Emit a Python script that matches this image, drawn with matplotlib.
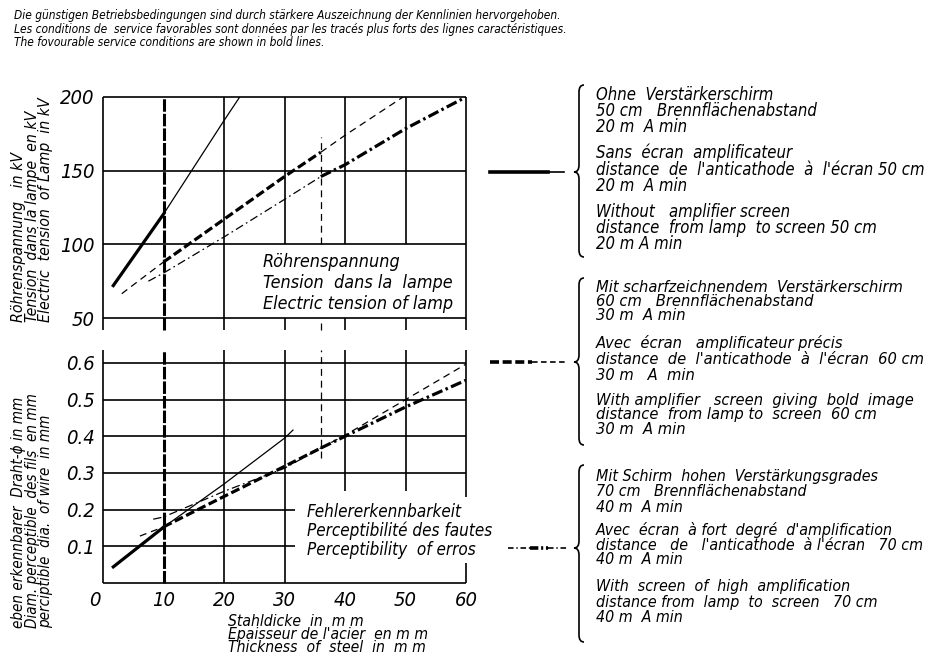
import matplotlib
matplotlib.use('Agg')
import matplotlib.pyplot as plt
from matplotlib import font_manager as fm
from matplotlib.path import Path
from matplotlib.patches import PathPatch
from matplotlib.transforms import ScaledTranslation

# pick a narrow italic face if one is there
names = {f.name for f in fm.fontManager.ttflist}
condensed = [f for f in fm.fontManager.ttflist if f.name == 'DejaVu Sans' and 'ondensed' in f.fname]
if 'Liberation Sans Narrow' in names:
    FAMILY, STRETCH = 'Liberation Sans Narrow', 'normal'
elif condensed:
    FAMILY, STRETCH = 'DejaVu Sans', 'condensed'
else:
    FAMILY, STRETCH = 'Liberation Sans', 'normal'

plt.rcParams['font.family'] = [FAMILY, 'DejaVu Sans']
plt.rcParams['font.style'] = 'italic'
plt.rcParams['font.stretch'] = STRETCH
plt.rcParams['lines.scale_dashes'] = False

# ---- data ----
# upper panel: tube voltage (kV) vs steel thickness (mm)
kv_x_none = [1.7, 10, 20, 22.6]
kv_none = [72, 120.5, 184, 200]
kv_x_sharp = [3.1, 10, 20, 30, 36, 40, 49.6]
kv_sharp = [66.5, 88, 117, 146, 162.5, 174, 200]
kv_x_high = [7.5, 10, 20, 30, 36, 40, 50, 60]
kv_high = [75, 80.5, 105, 130.5, 146, 154, 178.5, 200]

# lower panel: perceptible wire diameter (mm) vs steel thickness (mm)
d_x_none = [1.7, 10, 20, 30, 31.4]
d_none = [0.044, 0.152, 0.27, 0.395, 0.417]
d_x_sharp = [6.1, 10, 20, 30, 36, 40, 50, 60]
d_sharp = [0.128, 0.153, 0.236, 0.318, 0.368, 0.403, 0.50, 0.597]
d_x_high = [8.3, 10, 20, 30, 36, 40, 50, 60]
d_high = [0.174, 0.18, 0.25, 0.313, 0.368, 0.40, 0.48, 0.553]

# index ranges of the bold (favourable) parts
bold_none = (0, 1)
bold_sharp = (1, 4)
bold_high = (4, 7)

kv_ticks = [50, 100, 150, 200]
d_ticks = [0.1, 0.2, 0.3, 0.4, 0.5, 0.6]
d_tick_labels = ['0.1', '0.2', '0.3', '0.4', '0.5', '0.6']
x_ticks = [0, 10, 20, 30, 40, 50, 60]

note = ["Die günstigen Betriebsbedingungen sind durch stärkere Auszeichnung der Kennlinien hervorgehoben.",
        "Les conditions de  service favorables sont données par les tracés plus forts des lignes caractéristiques.",
        "The fovourable service conditions are shown in bold lines."]
ylab_kv = ["Röhrenspannung   in kV", "Tension  dans la lampe  en kV", "Electric  tension  of Lamp  in kV"]
ylab_d = ["eben erkennbarer  Draht-ϕ in mm", "Diam. perceptible  des fils  en mm", "perciptible  dia.  of wire  in mm"]
xlab = ["Stahldicke  in  m m", "Epaisseur de l'acier  en m m", "Thickness  of  steel  in  m m"]
kv_title = ["Röhrenspannung", "Tension  dans la  lampe", "Electric tension of lamp"]
d_title = ["Fehlererkennbarkeit", "Perceptibilité des fautes", "Perceptibility  of erros"]
legend_blocks = [
    ["Ohne  Verstärkerschirm", "50 cm   Brennflächenabstand", "20 m  A min",
     "Sans  écran  amplificateur", "distance  de  l'anticathode  à  l'écran 50 cm", "20 m  A min",
     "Without   amplifier screen", "distance  from lamp  to screen 50 cm", "20 m A min"],
    ["Mit scharfzeichnendem  Verstärkerschirm", "60 cm   Brennflächenabstand", "30 m  A min",
     "Avec  écran   amplificateur précis", "distance  de  l'anticathode  à  l'écran  60 cm", "30 m   A  min",
     "With amplifier   screen  giving  bold  image", "distance  from lamp to  screen  60 cm", "30 m  A min"],
    ["Mit Schirm  hohen  Verstärkungsgrades", "70 cm   Brennflächenabstand", "40 m  A min",
     "Avec  écran  à fort  degré  d'amplification", "distance   de   l'anticathode  à l'écran   70 cm", "40 m  A min",
     "With  screen  of  high  amplification", "distance from  lamp  to  screen   70 cm", "40 m  A min"],
]

fig = plt.figure(figsize=(9.47, 6.64), dpi=100)
ov = fig.add_axes([0, 0, 1, 1])
ov.set_xlim(0, 947)
ov.set_ylim(664, 0)
ov.axis('off')

W, H = 947.0, 664.0
ax1 = fig.add_axes([103 / W, 1 - 318 / H, 363 / W, 221 / H])
ax2 = fig.add_axes([103 / W, 1 - 583 / H, 363 / W, 220 / H])
for ax in (ax1, ax2):
    ax.set_facecolor('none')
    for s in ax.spines.values():
        s.set_visible(False)
    ax.set_xlim(0, 60)
    ax.tick_params(length=0, labelsize=14.5)

GRID = dict(color='k', lw=1.2, clip_on=False)
THIN = 0.9
BOLD = 2.3
DASH_THIN = (0, (5, 3.5))
DASH_BOLD = (0, (6.5, 2.6))
DD_THIN = (0, (6, 2.5, 1.2, 2.5))
DD_BOLD = (0, (8, 2.5, 1.8, 2.5))

# upper panel frame and grid
ax1.set_ylim(50, 200)
ax1.set_xticks([])
ax1.set_yticks(kv_ticks)
ax1.tick_params(axis='y', pad=6)
ax1.hlines(kv_ticks, 0, 60, **GRID)
ax1.vlines([0, 20, 60], 42, 200, **GRID)
ax1.vlines([30, 40, 50], 100, 200, **GRID)
ax1.vlines([30, 40, 50], 42, 50, **GRID)
ax1.vlines(10, 42, 200, color='k', lw=2.2, linestyles=(0, (9, 1.5)), clip_on=False)
ax1.vlines(36, 100, 173, color='k', lw=THIN, linestyles=DASH_THIN, clip_on=False)
ax1.vlines(36, 42, 50, color='k', lw=THIN, linestyles=DASH_THIN, clip_on=False)

# lower panel frame and grid
ax2.set_ylim(0, 0.6)
ax2.set_yticks(d_ticks)
ax2.set_yticklabels(d_tick_labels)
ax2.set_xticks(x_ticks)
ax2.tick_params(axis='y', pad=6)
ax2.tick_params(axis='x', pad=6)
zero = ax2.get_xticklabels()[0]
zero.set_transform(zero.get_transform() + ScaledTranslation(-0.08, 0, fig.dpi_scale_trans))
ax2.hlines([0, 0.3, 0.4, 0.5, 0.6], 0, 60, **GRID)
ax2.hlines([0.1, 0.2], 0, 31.7, **GRID)
ax2.vlines([0, 20, 30], 0, 0.635, **GRID)
ax2.vlines([40, 50], 0.25, 0.635, **GRID)
ax2.vlines(60, 0.235, 0.635, **GRID)
ax2.vlines(60, 0, 0.055, **GRID)
ax2.vlines(10, 0, 0.635, color='k', lw=2.2, linestyles=(0, (9, 1.5)), clip_on=False)
ax2.vlines(36, 0.34, 0.635, color='k', lw=THIN, linestyles=DASH_THIN, clip_on=False)


def split_plot(ax, x, y, bold, thin_ls, bold_ls):
    a, b = bold
    if a > 0:
        ax.plot(x[:a + 1], y[:a + 1], color='k', lw=THIN, ls=thin_ls)
    ax.plot(x[a:b + 1], y[a:b + 1], color='k', lw=BOLD, ls=bold_ls)
    if b < len(x) - 1:
        ax.plot(x[b:], y[b:], color='k', lw=THIN, ls=thin_ls)


split_plot(ax1, kv_x_none, kv_none, bold_none, '-', '-')
split_plot(ax1, kv_x_sharp, kv_sharp, bold_sharp, DASH_THIN, DASH_BOLD)
split_plot(ax1, kv_x_high, kv_high, bold_high, DD_THIN, DD_BOLD)
split_plot(ax2, d_x_none, d_none, bold_none, '-', '-')
split_plot(ax2, d_x_sharp, d_sharp, bold_sharp, DASH_THIN, DASH_BOLD)
split_plot(ax2, d_x_high, d_high, bold_high, DD_THIN, DD_BOLD)

renderer = fig.canvas.get_renderer()


def fit(texts, width, key=0, vertical=False):
    bb = texts[key].get_window_extent(renderer=renderer)
    size = bb.height if vertical else bb.width
    fs = texts[key].get_fontsize() * width / size
    for t in texts:
        t.set_fontsize(fs)


def block(lines, x, ys, key, width, **kw):
    ts = [ov.text(x, y, s, ha='left', va='center', **kw) for s, y in zip(lines, ys)]
    fit(ts, width, key)
    return ts


# header note
block(note, 14, [15, 29, 43], 0, 545, fontsize=10)

# texts inside the panels
block(kv_title, 263, [262, 283, 304], 2, 189, fontsize=12)
block(d_title, 307, [512, 531, 550], 1, 185, fontsize=12)

# x label
block(xlab, 228, [622, 635, 648], 1, 200, fontsize=11)

# y labels (rotated)
ts = [ov.text(x, 322, s, rotation=90, ha='center', va='bottom', fontsize=11)
      for s, x in zip(ylab_kv, [19, 32.5, 46])]
fit(ts, 225, 2, vertical=True)
ts = [ov.text(x, 628, s, rotation=90, ha='center', va='bottom', fontsize=11)
      for s, x in zip(ylab_d, [19, 32.5, 46])]
fit(ts, 235, 1, vertical=True)

# legend blocks with braces and line keys
block_ys = [[95, 111, 127, 153, 170, 186, 212, 228, 244],
            [287, 302, 316, 343, 360, 376, 400, 415, 430],
            [476, 491, 507, 530, 545, 560, 587, 602, 617]]
for lines, ys in zip(legend_blocks, block_ys):
    block(lines, 596, ys, 4, 328, fontsize=10)


def brace(x, y0, y1, ytip, w=5, r=7):
    verts = [(x + w, y0), (x, y0), (x, y0 + r), (x, ytip - r), (x, ytip), (x - w, ytip),
             (x, ytip), (x, ytip + r), (x, y1 - r), (x, y1), (x + w, y1)]
    codes = [Path.MOVETO, Path.CURVE3, Path.CURVE3, Path.LINETO, Path.CURVE3, Path.CURVE3,
             Path.CURVE3, Path.CURVE3, Path.LINETO, Path.CURVE3, Path.CURVE3]
    ov.add_patch(PathPatch(Path(verts, codes), fill=False, lw=1.2, color='k'))


brace(579, 85, 257, 172)
brace(579, 278, 445, 362)
brace(579, 465, 642, 548)

ov.plot([490, 548], [172, 172], color='k', lw=2.6)
ov.plot([548, 564], [172, 172], color='k', lw=1.2)
ov.plot([490, 532], [362, 362], color='k', lw=2.6, ls=DASH_BOLD)
ov.plot([532, 566], [362, 362], color='k', lw=1.2, ls=(0, (4, 2.5)))
ov.plot([508, 530], [548, 548], color='k', lw=1.2, ls=(0, (4, 2, 1, 2)))
ov.plot([530, 548], [548, 548], color='k', lw=2.6, ls=(0, (6, 2, 1.5, 2)))
ov.plot([548, 568], [548, 548], color='k', lw=1.2, ls=(0, (4, 2, 1, 2)))

fig.savefig('out.png', dpi=100, facecolor='white')
